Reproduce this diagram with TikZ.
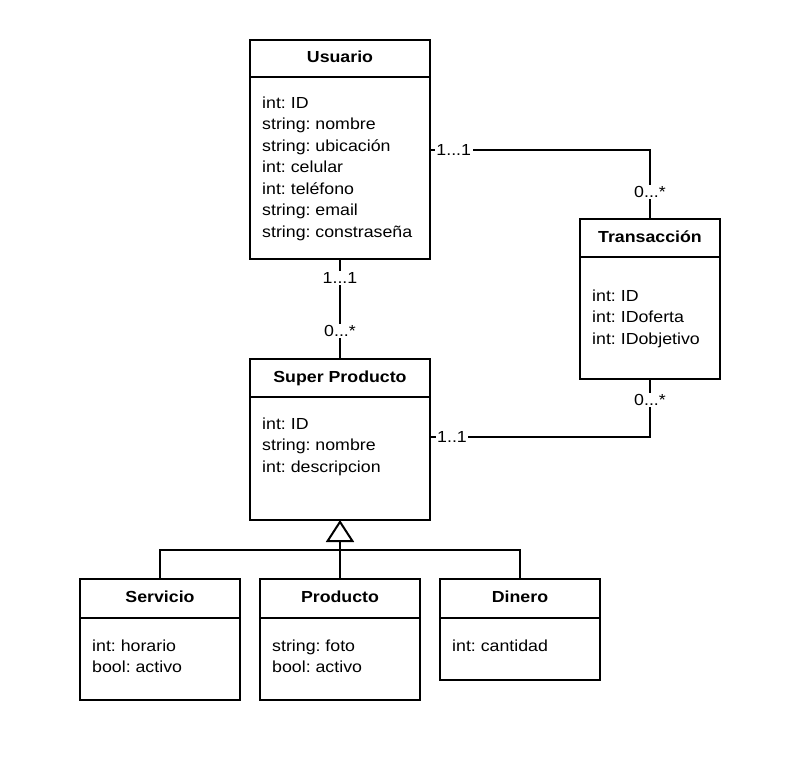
\documentclass[tikz,border=0pt]{standalone}
\usepackage{fontspec}
\setmainfont[FakeStretch=1.11]{Liberation Sans}
\frenchspacing
\usetikzlibrary{arrows.meta}
\begin{document}
\begin{tikzpicture}[x=1pt,y=-1pt,
  box/.style={draw, line width=2pt, outer sep=0pt, inner sep=0pt},
  hdr/.style={box, font=\fontsize{16}{19}\selectfont\bfseries, text height=12pt, text depth=4pt},
  attrs/.style={anchor=north west, inner sep=0pt, align=left, font=\fontsize{16}{21.5}\selectfont},
  lbl/.style={fill=white, inner sep=1.5pt, font=\fontsize{16}{19}\selectfont},
  conn/.style={line width=2pt}]
\fill[white] (0,0) rectangle (788,763);
\useasboundingbox (0,0) rectangle (788,763);

% Usuario
\node[hdr, minimum width=180pt, minimum height=37pt] (usuH) at (340,58.5) {Usuario};
\node[box, anchor=north, minimum width=180pt, minimum height=182pt] (usuB) at (usuH.south) {};
\node[attrs] (usuT) at ([xshift=12pt,yshift=-16pt]usuB.north west) {\strut int: ID\\string: nombre\\string: ubicación\\int: celular\\int: teléfono\\string: email\\string: constraseña};

% Transaccion
\node[hdr, minimum width=140pt, minimum height=38pt] (trH) at (650,238) {Transacción};
\node[box, anchor=north, minimum width=140pt, minimum height=122pt] (trB) at (trH.south) {};
\node[attrs] (trT) at ([xshift=12pt,yshift=-29pt]trB.north west) {\strut int: ID\\int: IDoferta\\int: IDobjetivo};

% Super Producto
\node[hdr, minimum width=180pt, minimum height=38pt] (supH) at (340,378) {Super Producto};
\node[box, anchor=north, minimum width=180pt, minimum height=123pt] (supB) at (supH.south) {};
\node[attrs] (supT) at ([xshift=12pt,yshift=-17pt]supB.north west) {\strut int: ID\\string: nombre\\int: descripcion};

% Servicio
\node[hdr, minimum width=160pt, minimum height=39pt] (servH) at (160,598.5) {Servicio};
\node[box, anchor=north, minimum width=160pt, minimum height=82pt] (servB) at (servH.south) {};
\node[attrs] (servT) at ([xshift=12pt,yshift=-18pt]servB.north west) {\strut int: horario\\bool: activo};

% Producto
\node[hdr, minimum width=160pt, minimum height=39pt] (prodH) at (340,598.5) {Producto};
\node[box, anchor=north, minimum width=160pt, minimum height=82pt] (prodB) at (prodH.south) {};
\node[attrs] (prodT) at ([xshift=12pt,yshift=-18pt]prodB.north west) {\strut string: foto\\bool: activo};

% Dinero
\node[hdr, minimum width=160pt, minimum height=39pt] (dinH) at (520,598.5) {Dinero};
\node[box, anchor=north, minimum width=160pt, minimum height=62pt] (dinB) at (dinH.south) {};
\node[attrs] (dinT) at ([xshift=12pt,yshift=-18pt]dinB.north west) {\strut int: cantidad};

% Associations
\draw[conn] ([yshift=18pt]usuB.east) -| node[lbl,pos=0.054]{1...1} node[lbl,pos=0.805]{0...*} (trH.north);
\draw[conn] (usuB.south) -- node[lbl,pos=0.19]{1...1} node[lbl,pos=0.72]{0...*} (supH.north);
\draw[conn] ([yshift=21.5pt]supB.east) -| node[lbl,pos=0.05]{1..1} node[lbl,pos=0.819]{0...*} (trB.south);

% Inheritance
\coordinate (join) at (340,550);
\draw[conn] (servH.north) |- (join) -| (dinH.north);
\draw[conn] (prodH.north) -- (join);
\draw[conn, -{Triangle[open, length=22pt, width=28pt]}] (join) -- (supB.south);
\end{tikzpicture}
\end{document}
